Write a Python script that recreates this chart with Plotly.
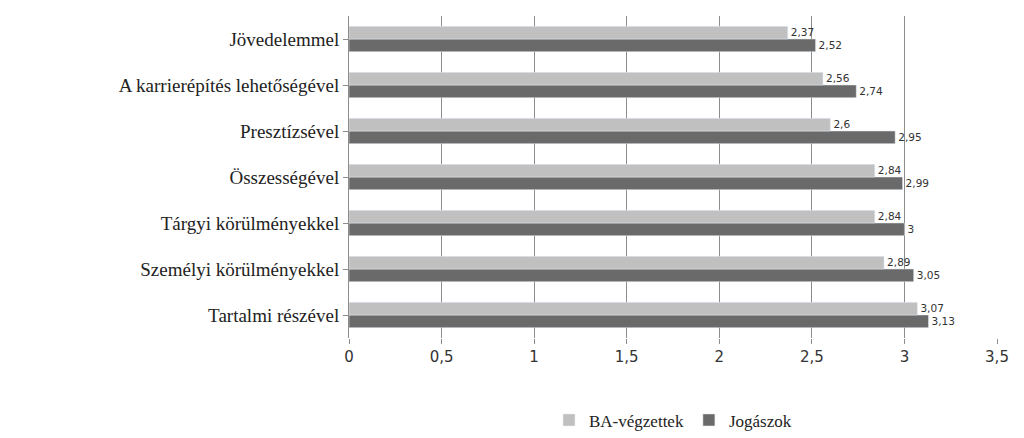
import plotly.graph_objects as go

categories = ["Tartalmi részével", "Személyi körülményekkel", "Tárgyi körülményekkel",
              "Összességével", "Presztízsével", "A karrierépítés lehetőségével", "Jövedelemmel"]
ba = [3.07, 2.89, 2.84, 2.84, 2.6, 2.56, 2.37]
jog = [3.13, 3.05, 3.0, 2.99, 2.95, 2.74, 2.52]

def fmt(v):
    return ("%g" % v).replace(".", ",")

fig = go.Figure()
fig.add_trace(go.Bar(y=categories, x=jog, name="Jogászok", orientation="h",
                     marker_color="#6a6a6a", text=[fmt(v) for v in jog],
                     textposition="outside", cliponaxis=False,
                     textfont=dict(family="DejaVu Sans", size=15, color="#333")))
fig.add_trace(go.Bar(y=categories, x=ba, name="BA-végzettek", orientation="h",
                     marker_color="#c0c0c0", text=[fmt(v) for v in ba],
                     textposition="outside", cliponaxis=False,
                     textfont=dict(family="DejaVu Sans", size=15, color="#333")))

fig.update_layout(
    width=1024, height=438, barmode="group", bargap=0.45, bargroupgap=0,
    margin=dict(l=341, r=35, t=8, b=93),
    plot_bgcolor="white", paper_bgcolor="white",
    xaxis=dict(range=[0, 3.5], dtick=0.5, showgrid=True, gridcolor="#8c8c8c",
               tickformat=",.1~f",
               tickfont=dict(family="DejaVu Sans", size=15, color="#333"),
               zeroline=False, ticks="outside", tickcolor="#8c8c8c", ticklen=5),
    yaxis=dict(showline=True, linecolor="#8c8c8c", ticks="outside", tickcolor="#8c8c8c",
               tickfont=dict(family="Liberation Serif", size=19, color="#222")),
    legend=dict(orientation="h", x=0.5, xanchor="center", y=-0.2, yanchor="top",
                traceorder="reversed",
                font=dict(family="Liberation Serif", size=17, color="#222")),
    separators=", ",
)
fig.write_html("out.html")
